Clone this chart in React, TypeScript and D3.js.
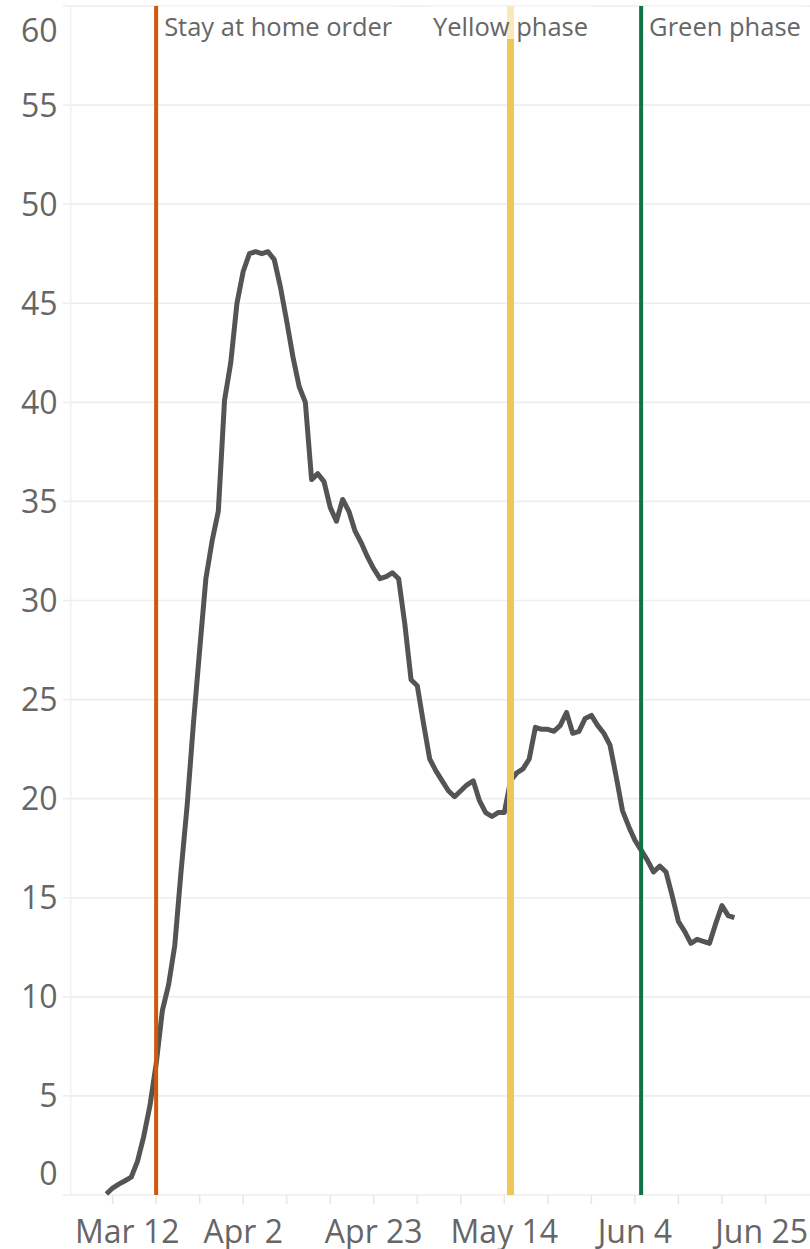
import React, { useEffect, useRef } from 'react';
import * as d3 from 'd3';

// ---- data ----
const firstDate = '2020-03-11';
const dailyValues: number[] = [
  0.05, 0.35, 0.55, 0.72, 0.9, 1.7, 2.95, 4.5, 6.6, 9.3,
  10.6, 12.6, 16.3, 19.7, 23.8, 27.5, 31.1, 33.0, 34.5, 40.1,
  42.0, 45.0, 46.6, 47.5, 47.6, 47.5, 47.6, 47.2, 45.8, 44.1,
  42.3, 40.8, 40.0, 36.1, 36.4, 36.0, 34.7, 34.0, 35.1, 34.5,
  33.5, 32.9, 32.2, 31.6, 31.1, 31.2, 31.4, 31.1, 28.8, 26.0,
  25.7, 23.8, 22.0, 21.4, 20.9, 20.4, 20.1, 20.4, 20.7, 20.9,
  19.9, 19.3, 19.1, 19.3, 19.3, 20.9, 21.3, 21.5, 22.0, 23.6,
  23.5, 23.5, 23.4, 23.7, 24.35, 23.3, 23.4, 24.05, 24.2, 23.7,
  23.3, 22.7, 21.1, 19.4, 18.6, 17.9, 17.4, 16.9, 16.3, 16.6,
  16.3, 15.1, 13.8, 13.3, 12.7, 12.9, 12.8, 12.7, 13.7, 14.6,
  14.1, 14.0,
];
const yTickValues = [0, 5, 10, 15, 20, 25, 30, 35, 40, 45, 50, 55, 60];
const xTickDates = [
  '2020-03-12', '2020-03-19', '2020-03-26', '2020-04-02', '2020-04-09', '2020-04-16',
  '2020-04-23', '2020-04-30', '2020-05-07', '2020-05-14', '2020-05-21', '2020-05-28',
  '2020-06-04', '2020-06-11', '2020-06-18', '2020-06-25',
];
const xLabelDates = ['2020-03-12', '2020-04-02', '2020-04-23', '2020-05-14', '2020-06-04', '2020-06-25'];
const xLabelTexts = ['Mar 12', 'Apr 2', 'Apr 23', 'May 14', 'Jun 4', 'Jun 25'];
const eventDates = ['2020-03-19', '2020-05-15', '2020-06-05'];
const eventLabels = ['Stay at home order', 'Yellow phase', 'Green phase'];

// ---- styles ----
const eventColors = ['#cd590b', '#eec75a', '#0f7445'];
const eventWidths = [4, 7, 4];
const eventAnchors = ['start', 'middle', 'start'];
const W = 810;
const H = 1249;
const FONT = "'Open Sans', 'DejaVu Sans', sans-serif";

export default function App() {
  const ref = useRef<SVGSVGElement | null>(null);

  useEffect(() => {
    const svg = d3.select(ref.current);
    svg.selectAll('*').remove();
    const parse = d3.utcParse('%Y-%m-%d');
    const DAY = 864e5;
    const anchor = parse('2020-03-12')!.getTime();

    const left = 70.7;
    const right = 810;
    const top = 6;
    const bottom = 1195;

    const x = d3
      .scaleUtc()
      .domain([new Date(anchor - 6.739 * DAY), new Date(anchor + 112.16 * DAY)])
      .range([left, right]);
    const y = d3.scaleLinear().domain([0, 60]).range([bottom, top]);

    const start = parse(firstDate)!;
    const series = dailyValues.map((v, i) => ({ date: d3.utcDay.offset(start, i), v }));

    // gridlines
    svg
      .append('g')
      .selectAll('line')
      .data(yTickValues)
      .join('line')
      .attr('x1', 62.7)
      .attr('x2', W)
      .attr('y1', (d) => y(d))
      .attr('y2', (d) => y(d))
      .attr('stroke', '#eeeeee')
      .attr('stroke-width', 1.6);

    // y axis line
    svg
      .append('line')
      .attr('x1', left)
      .attr('x2', left)
      .attr('y1', top)
      .attr('y2', bottom)
      .attr('stroke', '#f0f0f0')
      .attr('stroke-width', 1.5);

    // x ticks
    svg
      .append('g')
      .selectAll('line')
      .data(xTickDates.map((d) => parse(d)!))
      .join('line')
      .attr('x1', (d) => x(d))
      .attr('x2', (d) => x(d))
      .attr('y1', bottom)
      .attr('y2', bottom + 9)
      .attr('stroke', '#e6e6e6')
      .attr('stroke-width', 1.5);

    // y labels
    svg
      .append('g')
      .selectAll('text')
      .data(yTickValues)
      .join('text')
      .attr('x', 57.5)
      .attr('y', (d) => Math.max(top + 36, Math.min(bottom - 10, y(d) + 11.5)))
      .attr('text-anchor', 'end')
      .attr('font-family', FONT)
      .attr('font-size', 32)
      .attr('fill', '#666666')
      .text((d) => String(d));

    // x labels
    const xl = svg
      .append('g')
      .selectAll('text')
      .data(xLabelDates.map((d, i) => ({ date: parse(d)!, text: xLabelTexts[i] })))
      .join('text')
      .attr('x', (d) => x(d.date))
      .attr('y', 1243)
      .attr('text-anchor', 'middle')
      .attr('font-family', FONT)
      .attr('font-size', 32)
      .attr('fill', '#666666')
      .text((d) => d.text);
    xl.each(function () {
      const el = this as SVGTextElement;
      const bb = el.getBBox();
      const cx = parseFloat(el.getAttribute('x') || '0');
      if (bb.x < 75) el.setAttribute('x', String(cx + (75 - bb.x)));
      else if (bb.x + bb.width > 808) el.setAttribute('x', String(cx - (bb.x + bb.width - 808)));
    });

    // data line
    const line = d3
      .line<{ date: Date; v: number }>()
      .x((d) => x(d.date))
      .y((d) => y(d.v));
    svg
      .append('path')
      .datum(series)
      .attr('d', line)
      .attr('fill', 'none')
      .attr('stroke', '#545454')
      .attr('stroke-width', 5)
      .attr('stroke-linejoin', 'round');

    // event lines
    const events = eventDates.map((d, i) => ({
      date: parse(d)!,
      label: eventLabels[i],
      color: eventColors[i],
      width: eventWidths[i],
      anchor: eventAnchors[i],
    }));
    svg
      .append('g')
      .selectAll('line')
      .data(events)
      .join('line')
      .attr('x1', (d) => x(d.date))
      .attr('x2', (d) => x(d.date))
      .attr('y1', top)
      .attr('y2', bottom)
      .attr('stroke', (d) => d.color)
      .attr('stroke-width', (d) => d.width);

    // event labels with translucent boxes
    const lg = svg.append('g');
    events.forEach((ev) => {
      const g = lg.append('g');
      const rect = g.append('rect');
      const t = g
        .append('text')
        .attr('x', ev.anchor === 'start' ? x(ev.date) + 8 : x(ev.date))
        .attr('y', 36)
        .attr('text-anchor', ev.anchor)
        .attr('font-family', FONT)
        .attr('font-size', 25.5)
        .attr('fill', '#666666')
        .text(ev.label);
      const bb = (t.node() as SVGTextElement).getBBox();
      rect
        .attr('x', bb.x - 3)
        .attr('y', top)
        .attr('width', bb.width + 6)
        .attr('height', 33)
        .attr('fill', '#ffffff')
        .attr('fill-opacity', 0.6);
    });
  }, []);

  return (
    <svg
      ref={ref}
      width={W}
      height={H}
      style={{ position: 'absolute', left: 0, top: 0, background: '#ffffff' }}
    />
  );
}
